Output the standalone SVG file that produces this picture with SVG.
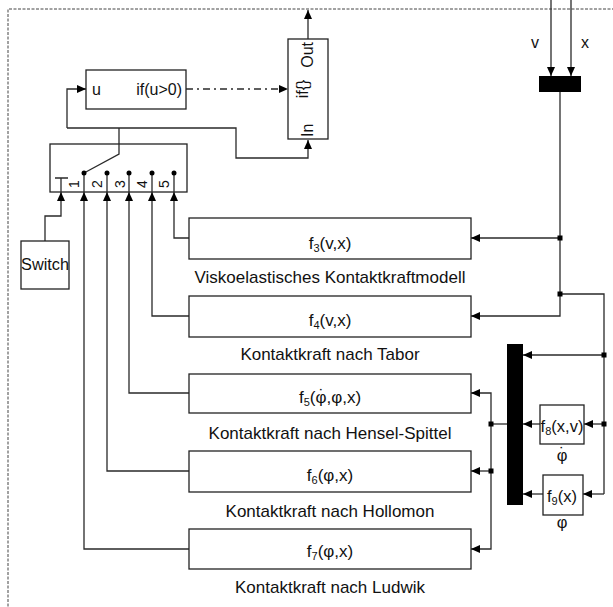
<svg xmlns="http://www.w3.org/2000/svg" width="613" height="607" viewBox="0 0 613 607">
<style>
text{font-family:"Liberation Sans",Arial,sans-serif;fill:#111}
.box{fill:#fff;stroke:#222;stroke-width:1.3}
.ln{fill:none;stroke:#2a2a2a;stroke-width:1.3}
.lbl{font-size:17px;text-anchor:middle}
.fl{font-size:17px;text-anchor:middle}
.dig{font-size:14px;text-anchor:middle}
.blk{fill:#000}
</style>
<defs>
<marker id="arr" viewBox="0 0 9 8" refX="9" refY="4" markerWidth="9" markerHeight="8" orient="auto" markerUnits="userSpaceOnUse">
<path d="M0,0 L9,4 L0,8 z" fill="#000"/>
</marker>
</defs>
<rect x="0" y="0" width="613" height="607" fill="#fff"/>
<path d="M8,620 L8,9 L620,9" fill="none" stroke="#444" stroke-width="1" stroke-dasharray="3,1.5"/>

<g id="connectors">
<path class="ln" d="M308,39 L308,10" marker-end="url(#arr)"/>
<path class="ln" d="M119,144 L119,128 M67,128 L236,128 L236,158 L308,158 L308,140" marker-end="url(#arr)"/>
<path class="ln" d="M67,128 L67,89 L86,89" marker-end="url(#arr)"/>
<path class="ln" d="M186,89 L288,89" stroke-dasharray="7,4,2,4" marker-end="url(#arr)"/>
<path class="ln" d="M45,241 L45,216 L61,216 L61,192" marker-end="url(#arr)"/>
<path class="ln" d="M189,238 L174,238 L174,192" marker-end="url(#arr)"/>
<path class="ln" d="M189,316 L152,316 L152,192" marker-end="url(#arr)"/>
<path class="ln" d="M189,393 L129,393 L129,192" marker-end="url(#arr)"/>
<path class="ln" d="M189,471 L107,471 L107,192" marker-end="url(#arr)"/>
<path class="ln" d="M189,549 L84,549 L84,192" marker-end="url(#arr)"/>
<path class="ln" d="M551,0 L551,76" marker-end="url(#arr)"/>
<path class="ln" d="M571,0 L571,76" marker-end="url(#arr)"/>
<path class="ln" d="M560,92 L560,294"/>
<path class="ln" d="M560,238 L471,238" marker-end="url(#arr)"/>
<path class="ln" d="M560,294 L560,316 L471,316" marker-end="url(#arr)"/>
<path class="ln" d="M560,294 L604,294 L604,494"/>
<path class="ln" d="M604,355 L523,355" marker-end="url(#arr)"/>
<path class="ln" d="M604,424 L584,424" marker-end="url(#arr)"/>
<path class="ln" d="M604,494 L583,494" marker-end="url(#arr)"/>
<path class="ln" d="M540,424 L523,424" marker-end="url(#arr)"/>
<path class="ln" d="M543,494 L523,494" marker-end="url(#arr)"/>
<path class="ln" d="M507,424 L491,424"/>
<path class="ln" d="M491,424 L491,393 L471,393" marker-end="url(#arr)"/>
<path class="ln" d="M491,471 L471,471" marker-end="url(#arr)"/>
<path class="ln" d="M491,424 L491,549 L471,549" marker-end="url(#arr)"/>
<rect class="blk" x="557.5" y="235.5" width="5" height="5"/>
<rect class="blk" x="557.5" y="291.5" width="5" height="5"/>
<rect class="blk" x="601.5" y="352.5" width="5" height="5"/>
<rect class="blk" x="601.5" y="421.5" width="5" height="5"/>
<rect class="blk" x="488.5" y="421.5" width="5" height="5"/>
<rect class="blk" x="488.5" y="468.5" width="5" height="5"/>
</g>

<g id="if-block">
<rect class="box" x="288" y="39" width="40" height="100"/>
<text font-size="16" text-anchor="end" transform="translate(313,42) rotate(-90)">Out</text>
<text font-size="16" text-anchor="middle" transform="translate(308,89) rotate(-90)">if{}</text>
<text font-size="16" text-anchor="start" transform="translate(313,137) rotate(-90)">In</text>
</g>

<g id="u-block">
<rect class="box" x="86" y="70" width="100" height="39"/>
<text font-size="16" x="92" y="95">u</text>
<text font-size="16" x="182" y="95" text-anchor="end">if(u&gt;0)</text>
</g>

<g id="multiport-switch">
<rect class="box" x="50" y="144" width="137" height="48"/>
<path class="ln" d="M119,144 L119,154 L84,173"/>
<path class="ln" d="M55,178 L68,178 M61,178 L61,192"/>
<path class="ln" d="M84,173 L84,192 M107,173 L107,192 M129,173 L129,192 M152,173 L152,192 M174,173 L174,192"/>
<circle cx="84" cy="173" r="2.5" fill="#000"/>
<circle cx="107" cy="173" r="2.5" fill="#000"/>
<circle cx="129" cy="173" r="2.5" fill="#000"/>
<circle cx="152" cy="173" r="2.5" fill="#000"/>
<circle cx="174" cy="173" r="2.5" fill="#000"/>
<text class="dig" transform="translate(79,184) rotate(-90)">1</text>
<text class="dig" transform="translate(102,184) rotate(-90)">2</text>
<text class="dig" transform="translate(125,184) rotate(-90)">3</text>
<text class="dig" transform="translate(147,184) rotate(-90)">4</text>
<text class="dig" transform="translate(169,184) rotate(-90)">5</text>
</g>

<g id="switch">
<rect class="box" x="21" y="241" width="48" height="48"/>
<text font-size="16.3" x="45" y="270" text-anchor="middle">Switch</text>
</g>

<g id="mux-vx">
<rect class="blk" x="539" y="76" width="42" height="16"/>
<text font-size="16" x="535" y="48" text-anchor="middle">v</text>
<text font-size="16" x="585" y="48" text-anchor="middle">x</text>
</g>

<g id="f3">
<rect class="box" x="189" y="218" width="282" height="41"/>
<text class="fl" x="330" y="249">f<tspan font-size="11" dy="3">3</tspan><tspan dy="-3">(v,x)</tspan></text>
<text class="lbl" x="330" y="283">Viskoelastisches Kontaktkraftmodell</text>
</g>

<g id="f4">
<rect class="box" x="189" y="296" width="282" height="41"/>
<text class="fl" x="330" y="326">f<tspan font-size="11" dy="3">4</tspan><tspan dy="-3">(v,x)</tspan></text>
<text class="lbl" x="330" y="360">Kontaktkraft nach Tabor</text>
</g>

<g id="f5">
<rect class="box" x="189" y="374" width="282" height="39"/>
<text class="fl" x="330" y="403">f<tspan font-size="11" dy="3">5</tspan><tspan dy="-3">(φ</tspan><tspan dx="-7.7" dy="-2">˙</tspan><tspan dx="2" dy="2">,φ,x)</tspan></text>
<text class="lbl" x="330" y="439">Kontaktkraft nach Hensel-Spittel</text>
</g>

<g id="f6">
<rect class="box" x="189" y="451" width="282" height="41"/>
<text class="fl" x="330" y="481">f<tspan font-size="11" dy="3">6</tspan><tspan dy="-3">(φ,x)</tspan></text>
<text class="lbl" x="330" y="517">Kontaktkraft nach Hollomon</text>
</g>

<g id="f7">
<rect class="box" x="189" y="529" width="282" height="40"/>
<text class="fl" x="330" y="557">f<tspan font-size="11" dy="3">7</tspan><tspan dy="-3">(φ,x)</tspan></text>
<text class="lbl" x="330" y="593">Kontaktkraft nach Ludwik</text>
</g>

<g id="mux-phi">
<rect class="blk" x="507" y="344" width="16" height="161"/>
</g>

<g id="f8">
<rect class="box" x="540" y="405" width="44" height="39"/>
<text font-size="16.5" x="562" y="432" text-anchor="middle">f<tspan font-size="11" dy="3">8</tspan><tspan dy="-3">(x,v)</tspan></text>
<text font-size="16.5" x="562" y="461" text-anchor="middle">φ</text>
<text font-size="16.5" x="562" y="459" text-anchor="middle">˙</text>
</g>

<g id="f9">
<rect class="box" x="543" y="475" width="40" height="40"/>
<text font-size="16.5" x="562" y="502" text-anchor="middle">f<tspan font-size="11" dy="3">9</tspan><tspan dy="-3">(x)</tspan></text>
<text font-size="16.5" x="562" y="528" text-anchor="middle">φ</text>
</g>
</svg>
